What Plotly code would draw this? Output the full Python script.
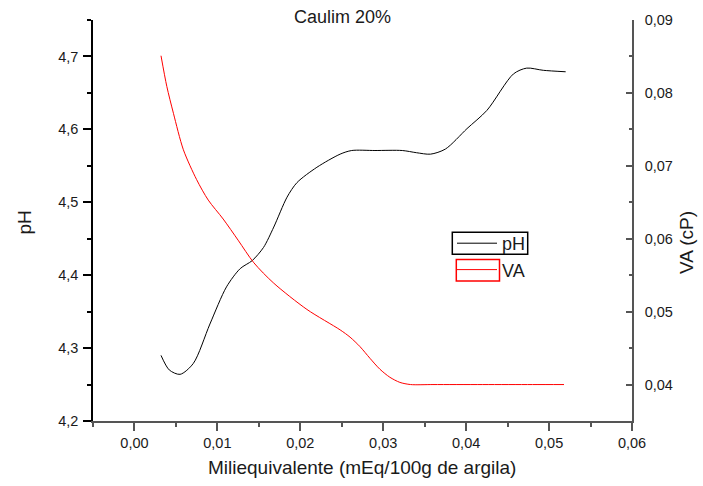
import plotly.graph_objects as go

# pH curve
x_ph = [0.0032, 0.0042, 0.0055, 0.0071, 0.0091, 0.0111, 0.01275, 0.0142, 0.01556,
        0.0168, 0.0184, 0.0196, 0.0220, 0.0248, 0.0262, 0.0290, 0.0323, 0.0340,
        0.0357, 0.0375, 0.0401, 0.0425, 0.0457, 0.0473, 0.0493, 0.0520]
ph = [4.290, 4.270, 4.264, 4.279, 4.333, 4.384, 4.409, 4.420, 4.438,
      4.466, 4.507, 4.527, 4.548, 4.566, 4.571, 4.571, 4.571, 4.568,
      4.566, 4.573, 4.601, 4.626, 4.676, 4.684, 4.681, 4.679]

# VA curve (cP)
x_va = [0.0032, 0.0039, 0.0047, 0.0059, 0.0075, 0.0089, 0.0107, 0.0125, 0.0144,
        0.0168, 0.0208, 0.0248, 0.0260, 0.0272, 0.0284, 0.0296, 0.0308, 0.0320,
        0.0333, 0.0360, 0.0420, 0.0480, 0.0518]
va = [0.0851, 0.0809, 0.0772, 0.0722, 0.0681, 0.0653, 0.0627, 0.0598, 0.0567,
      0.0539, 0.0503, 0.0475, 0.0465, 0.0452, 0.0436, 0.0421, 0.0410, 0.0403,
      0.0400, 0.0400, 0.0400, 0.0400, 0.0400]

FONT = "Liberation Sans, Arial, sans-serif"
TXT = "#1a1a1a"

W, H = 703, 486
L, R, T, B = 93, 71, 20, 65
PW, PH = W - L - R, H - T - B


def px(xp):
    return (xp - L) / PW


def py(yp):
    return (H - B - yp) / PH


fig = go.Figure()
fig.add_trace(go.Scatter(x=x_ph, y=ph, name="pH", mode="lines",
                         line=dict(color="black", width=1, shape="spline", smoothing=0.8),
                         yaxis="y"))
fig.add_trace(go.Scatter(x=x_va, y=va, name="VA", mode="lines",
                         line=dict(color="red", width=1, shape="spline", smoothing=0.8),
                         yaxis="y2"))

fig.update_layout(
    width=W, height=H,
    margin=dict(l=L, r=R, t=T, b=B),
    paper_bgcolor="white", plot_bgcolor="white",
    separators=",.",
    font=dict(family=FONT, color=TXT, size=14.5),
    showlegend=True,
    legend=dict(x=px(452), y=py(225), xanchor="left", yanchor="top",
                bgcolor="rgba(0,0,0,0)", borderwidth=0,
                font=dict(family=FONT, size=18, color=TXT),
                itemwidth=40, tracegroupgap=0),
    xaxis=dict(range=[-0.005, 0.06], dtick=0.01, tick0=0, tickformat=".2f",
               showgrid=False, zeroline=False,
               showline=True, linecolor="#555", linewidth=1.5,
               ticks="outside", ticklen=8, tickwidth=1.5, tickcolor="#555",
               minor=dict(ticks="outside", ticklen=4, dtick=0.005, tickcolor="#555",
                          tickwidth=1.5, showgrid=False),
               tickfont=dict(size=14.5, color=TXT)),
    yaxis=dict(range=[4.2, 4.75], dtick=0.1, tick0=4.2, tickformat=".1f",
               showgrid=False, zeroline=False,
               showline=True, linecolor="black", linewidth=1.5,
               ticks="outside", ticklen=8, tickwidth=1.5, tickcolor="black",
               minor=dict(ticks="outside", ticklen=4, dtick=0.05, tickcolor="black",
                          tickwidth=1.5, showgrid=False),
               ticklabelstandoff=2,
               tickfont=dict(size=14.5, color=TXT)),
    yaxis2=dict(range=[0.035, 0.09], dtick=0.01, tick0=0.04, tickformat=".2f",
                overlaying="y", side="right", anchor="x",
                showgrid=False, zeroline=False,
                showline=True, linecolor="#555", linewidth=1.5,
                ticks="inside", ticklen=6, tickwidth=1.5, tickcolor="#555",
                minor=dict(ticks="inside", ticklen=3, dtick=0.005, tickcolor="#555",
                           tickwidth=1.5, showgrid=False),
                ticklabelstandoff=8,
                tickfont=dict(size=14.5, color=TXT)),
)

annotations = [
    dict(text="Caulim 20%", x=px(342), y=py(17), font=dict(size=18)),
    dict(text="Miliequivalente (mEq/100g de argila)", x=px(362), y=py(468),
         font=dict(size=19)),
    dict(text="pH", x=px(24), y=py(222.5), textangle=-90, font=dict(size=19)),
    dict(text="VA (cP)", x=px(686), y=py(243), textangle=-90, font=dict(size=19)),
]
for a in annotations:
    a.update(xref="paper", yref="paper", showarrow=False,
             xanchor="center", yanchor="middle")
    a["font"].update(family=FONT, color=TXT)
fig.update_layout(annotations=annotations)

# frames around the legend entries
fig.add_shape(type="rect", xref="paper", yref="paper",
              x0=px(452.3), x1=px(527.7), y0=py(232.3), y1=py(254.3),
              line=dict(color="black", width=1.5))
fig.add_shape(type="rect", xref="paper", yref="paper",
              x0=px(456.3), x1=px(499.5), y0=py(259.5), y1=py(281),
              line=dict(color="red", width=1.5))

fig.write_html("out.html")
